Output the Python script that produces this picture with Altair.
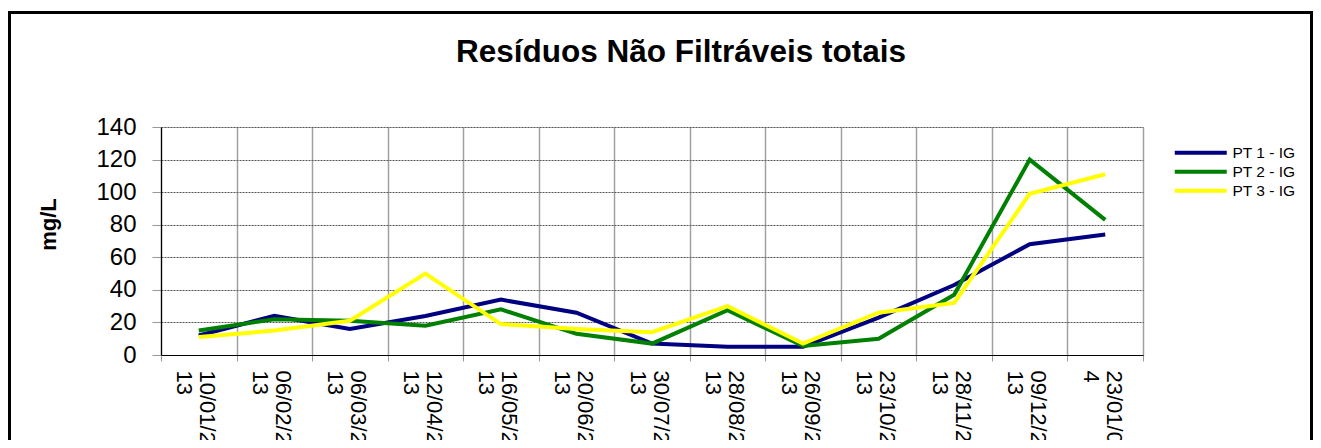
import altair as alt
import pandas as pd

categories = ["10/01/2013", "06/02/2013", "06/03/2013", "12/04/2013", "16/05/2013",
              "20/06/2013", "30/07/2013", "28/08/2013", "26/09/2013", "23/10/2013",
              "28/11/2013", "09/12/2013", "23/01/014"]
series = ["PT 1 - IG", "PT 2 - IG", "PT 3 - IG"]
pt1 = [12, 24, 16, 24, 34, 26, 7, 5, 5, 23, 43, 68, 74]
pt2 = [15, 22, 21, 18, 28, 13, 7, 27.5, 5.5, 10, 37, 120, 83]
pt3 = [11, 15, 21, 50, 19, 16, 14, 30, 7, 26, 32, 99, 111]
colors = ["#000080", "#008000", "#FFFF00"]
y_ticks = [0, 20, 40, 60, 80, 100, 120, 140]

rows = []
for name, vals in zip(series, [pt1, pt2, pt3]):
    for c, v in zip(categories, vals):
        rows.append({"data": c, "serie": name, "valor": v})
df = pd.DataFrame(rows)

FONT = "Liberation Sans"
W, H = 982, 228

lines = alt.Chart(df).mark_line(strokeWidth=4, strokeJoin="miter").encode(
    x=alt.X("data:N", sort=categories, bandPosition=0.5,
            scale=alt.Scale(type="band", paddingInner=0, paddingOuter=0),
            axis=alt.Axis(title=None, tickBand="extent", labelAngle=90, labelAlign="left",
                          labelBaseline="middle", labelFont=FONT, labelFontSize=22,
                          labelLineHeight=23, labelColor="black", labelOffset=8,
                          labelExpr="[slice(datum.label,0,8), slice(datum.label,8)]",
                          tickSize=6, tickColor="#999999", labelPadding=9,
                          domainColor="black", domainWidth=1.2,
                          grid=True, gridColor="#a0a0a0", gridWidth=1.5,
                          labelOverlap=False, labelBound=False)),
    y=alt.Y("valor:Q", scale=alt.Scale(domain=[0, 140], nice=False, zero=True),
            axis=alt.Axis(title="mg/L", values=y_ticks, titleFont=FONT, titleFontSize=22,
                          titleFontWeight="bold", titleColor="black", titleAngle=270,
                          titleX=-113, titleY=97, titleAlign="center", titleBaseline="middle",
                          labelFont=FONT, labelFontSize=24, labelColor="black", labelPadding=16,
                          tickSize=9, tickColor="#999999",
                          domainColor="black", domainWidth=1.2,
                          grid=True, gridColor="#555555", gridDash=[2, 1], gridWidth=1)),
    color=alt.Color("serie:N", sort=series,
                    scale=alt.Scale(domain=series, range=colors),
                    legend=alt.Legend(title=None, orient="none", legendX=1032, legendY=18,
                                      symbolType="M-5.2,0H5.2", symbolSize=100,
                                      symbolStrokeWidth=4, labelFont=FONT, labelFontSize=15.5,
                                      labelColor="black", labelOffset=24, rowPadding=1,
                                      padding=0)),
)

frame_df = pd.DataFrame({"k": [0]})
frame = alt.Chart(frame_df).mark_rect(fill="transparent", stroke="black", strokeWidth=3).encode(
    x=alt.value(-151.5), x2=alt.value(1150.5), y=alt.value(-114.5), y2=alt.value(400)
)

chart = alt.layer(frame, lines).properties(
    width=W, height=H,
    autosize=alt.AutoSizeParams(type="none"),
    padding={"left": 153, "top": 119, "right": 170, "bottom": 85},
    title=alt.Title("Resíduos Não Filtráveis totais", font=FONT, fontSize=31.5,
                    fontWeight="bold", color="black", anchor="middle", dx=29,
                    offset=0, baseline="alphabetic", dy=82),
).configure_view(stroke=None).configure(background="white")

chart.save("out.html", embed_options={"renderer": "svg", "actions": False})
